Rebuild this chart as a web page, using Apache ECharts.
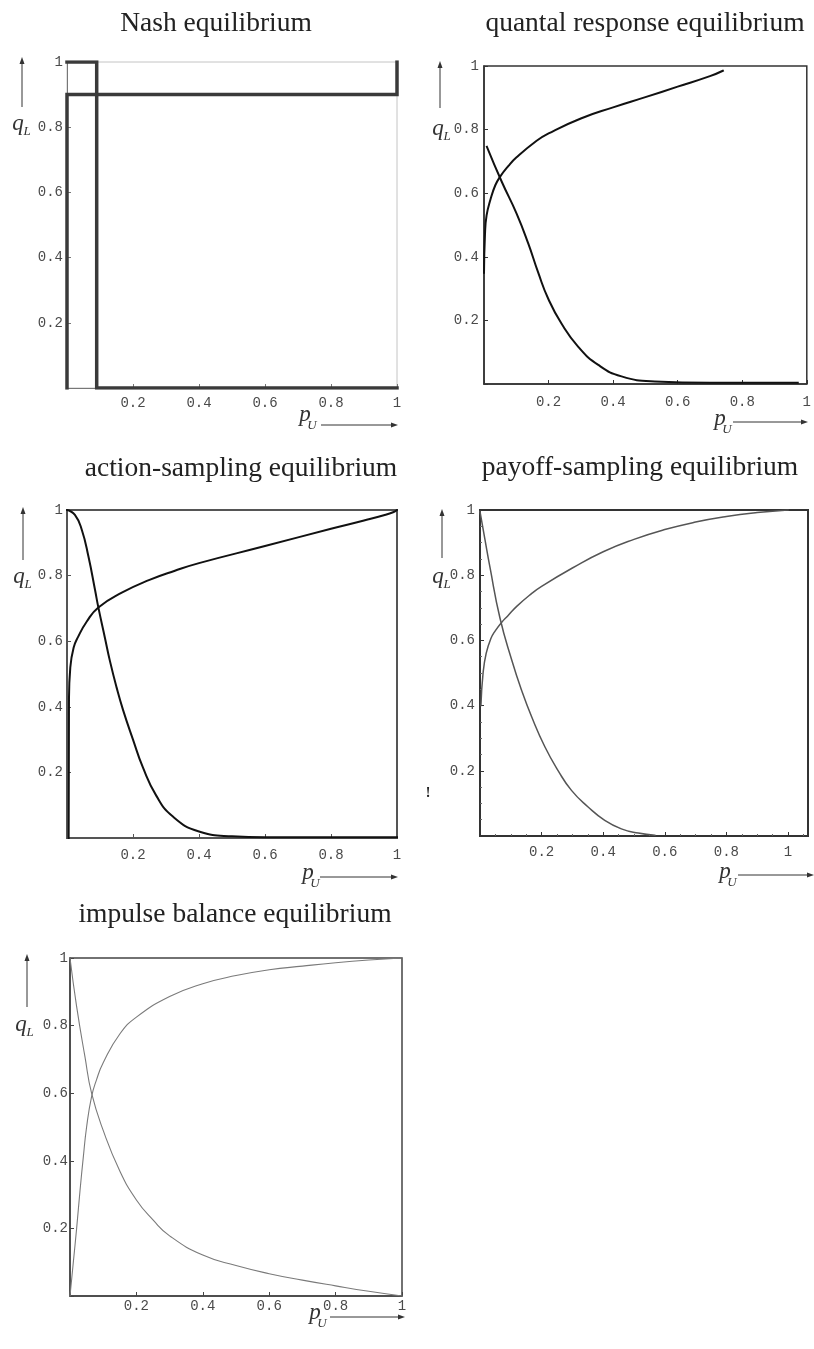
<!DOCTYPE html>
<html>
<head>
<meta charset="utf-8">
<script src="https://cdn.jsdelivr.net/npm/echarts@6/dist/echarts.min.js"></script>
<style>
  html, body { margin: 0; padding: 0; background: #fff; }
  #chart { width: 814px; height: 1349px; }
</style>
</head>
<body>
<div id="chart"></div>
<script>
// Panel titles and axis tick labels
const titles = [
  'Nash equilibrium',
  'quantal response equilibrium',
  'action-sampling equilibrium',
  'payoff-sampling equilibrium',
  'impulse balance equilibrium'
];
const tickLabels = ['0.2', '0.4', '0.6', '0.8', '1'];

// Nash equilibrium: best-response step functions, [p_U, q_L]
const nashRowResponse = [[0, 1], [0.09, 1], [0.09, 0], [1, 0]];
const nashColResponse = [[0, 0], [0, 0.9], [1, 0.9], [1, 1]];

// Quantal response equilibrium
const qreRise = [[0, 0.35], [0.003, 0.47], [0.008, 0.53], [0.02, 0.58], [0.035, 0.625], [0.05, 0.652],
  [0.075, 0.685], [0.1, 0.712], [0.163, 0.765], [0.2, 0.788], [0.3, 0.835], [0.4, 0.87],
  [0.5, 0.902], [0.6, 0.935], [0.7, 0.968], [0.74, 0.985]];
const qreFall = [[0.009, 0.746], [0.055, 0.636], [0.101, 0.536], [0.137, 0.442], [0.168, 0.35],
  [0.199, 0.268], [0.24, 0.19], [0.292, 0.117], [0.354, 0.06], [0.426, 0.024], [0.529, 0.008],
  [0.7, 0.004], [0.972, 0.004]];

// Action-sampling equilibrium
const asRise = [[0.005, 0], [0.006, 0.42], [0.01, 0.52], [0.02, 0.58], [0.034, 0.614], [0.06, 0.66],
  [0.095, 0.703], [0.166, 0.748], [0.25, 0.787], [0.327, 0.815], [0.4, 0.838], [0.6, 0.89],
  [0.8, 0.943], [0.9, 0.968], [0.96, 0.984], [0.99, 0.994], [1, 1]];
const asFall = [[0, 1], [0.024, 0.985], [0.045, 0.939], [0.065, 0.858], [0.085, 0.756], [0.095, 0.703],
  [0.115, 0.61], [0.13, 0.54], [0.15, 0.46], [0.17, 0.39], [0.2, 0.3], [0.23, 0.215], [0.27, 0.13],
  [0.32, 0.066], [0.4, 0.02], [0.5, 0.005], [0.6, 0.002], [1, 0.002]];

// Payoff-sampling equilibrium
const psRise = [[0.003, 0.4], [0.01, 0.5], [0.02, 0.56], [0.035, 0.605], [0.05, 0.63], [0.07, 0.655],
  [0.09, 0.675], [0.12, 0.705], [0.168, 0.744], [0.2, 0.766], [0.3, 0.822], [0.4, 0.872],
  [0.5, 0.91], [0.6, 0.94], [0.7, 0.963], [0.8, 0.98], [0.9, 0.992], [1, 1]];
const psFall = [[0, 0.995], [0.016, 0.91], [0.032, 0.826], [0.065, 0.668], [0.103, 0.54], [0.135, 0.447],
  [0.168, 0.365], [0.211, 0.273], [0.254, 0.2], [0.297, 0.14], [0.351, 0.089], [0.405, 0.048],
  [0.459, 0.022], [0.514, 0.009], [0.568, 0.002]];

// Impulse balance equilibrium
const ibRise = [[0, 0], [0.01, 0.1], [0.02, 0.2], [0.03, 0.31], [0.04, 0.41], [0.05, 0.5], [0.065, 0.59],
  [0.08, 0.64], [0.1, 0.69], [0.15, 0.775], [0.2, 0.825], [0.3, 0.886], [0.4, 0.924], [0.5, 0.948],
  [0.6, 0.965], [0.7, 0.976], [0.8, 0.986], [0.9, 0.994], [1, 1]];
const ibFall = [[0, 1], [0.02, 0.856], [0.045, 0.708], [0.065, 0.6], [0.1, 0.49], [0.15, 0.37], [0.2, 0.284],
  [0.25, 0.225], [0.3, 0.178], [0.4, 0.121], [0.5, 0.09], [0.6, 0.066], [0.7, 0.047], [0.8, 0.03],
  [0.9, 0.014], [1, 0]];

const panelData = [
  { curves: [nashRowResponse, nashColResponse], smooth: false },
  { curves: [qreRise, qreFall], smooth: 0.5 },
  { curves: [asRise, asFall], smooth: 0.5 },
  { curves: [psRise, psFall], smooth: 0.5 },
  { curves: [ibRise, ibFall], smooth: 0.5 }
];

// Page layout of the five panels (pixels) and their drawing styles
const layout = [
  { left: 67, top: 62, width: 330, height: 326, xMax: 1, titleX: 216, titleTop: 10,
    frame: '#c4c4c4', frameW: 1, axis: '#777', line: '#3a3a3a', lineW: 3.5,
    xGap: 8, yGap: 4, qArrow: [22, 107, 57], q: [18, 124], pArrow: [321, 398, 425], p: [305, 415] },
  { left: 484, top: 66, width: 323, height: 318, xMax: 1, titleX: 645, titleTop: 10,
    frame: '#333', frameW: 1.5, axis: '#333', line: '#111', lineW: 2,
    xGap: 11, yGap: 5, qArrow: [440, 108, 61], q: [438, 129], pArrow: [733, 808, 422], p: [720, 419] },
  { left: 67, top: 510, width: 330, height: 328, xMax: 1, titleX: 241, titleTop: 455,
    frame: '#555', frameW: 2, axis: '#555', line: '#111', lineW: 2,
    xGap: 10, yGap: 4, qArrow: [23, 560, 507], q: [19, 577], pArrow: [320, 398, 877], p: [308, 873] },
  { left: 480, top: 510, width: 328, height: 326, xMax: 1.065, titleX: 640, titleTop: 454,
    frame: '#333', frameW: 2, axis: '#333', line: '#555', lineW: 1.5,
    xGap: 9, yGap: 5, qArrow: [442, 558, 509], q: [438, 577], pArrow: [738, 814, 875], p: [725, 872] },
  { left: 70, top: 958, width: 332, height: 338, xMax: 1, titleX: 235, titleTop: 901,
    frame: '#444', frameW: 1.5, axis: '#444', line: '#7a7a7a', lineW: 1.1,
    xGap: 3, yGap: 2, qArrow: [27, 1007, 954], q: [21, 1025], pArrow: [330, 405, 1317], p: [315, 1313] }
];

const tickFont = { fontFamily: 'Liberation Mono, DejaVu Sans Mono, monospace', fontSize: 14, color: '#4a4a4a' };
const fmt = v => {
  const r = Math.round(v * 10) / 10;
  const label = r === 1 ? '1' : r.toFixed(1);
  return tickLabels.includes(label) ? label : '';
};

const grid = [], xAxis = [], yAxis = [], series = [], title = [], graphic = [];

layout.forEach((L, i) => {
  grid.push({ left: L.left, top: L.top, width: L.width, height: L.height,
    show: true, borderColor: L.frame, borderWidth: L.frameW, backgroundColor: 'transparent' });

  const common = {
    type: 'value', gridIndex: i, min: 0, interval: 0.2,
    splitLine: { show: false },
    axisLine: { show: true, onZero: false, lineStyle: { color: L.axis, width: L.frameW } },
    axisTick: { show: true, inside: true, length: 4, lineStyle: { color: L.axis, width: 1 } },
    minorTick: { show: i === 3, splitNumber: 4, length: 2, lineStyle: { color: '#666' } }
  };
  xAxis.push(Object.assign({}, common, { max: L.xMax,
    axisLabel: Object.assign({ margin: L.xGap, formatter: fmt, showMaxLabel: L.xMax === 1 }, tickFont) }));
  yAxis.push(Object.assign({}, common, { max: 1,
    axisLabel: Object.assign({ margin: L.yGap, formatter: fmt }, tickFont) }));

  panelData[i].curves.forEach(c => {
    series.push({ type: 'line', xAxisIndex: i, yAxisIndex: i, data: c,
      smooth: panelData[i].smooth,
      showSymbol: false, symbol: 'none', animation: false, silent: true,
      lineStyle: { color: L.line, width: L.lineW, cap: 'square', join: 'miter' } });
  });

  title.push({ text: titles[i], left: L.titleX, top: L.titleTop, textAlign: 'center', padding: 0,
    textStyle: { fontFamily: 'Liberation Serif, Times New Roman, serif', fontSize: 27.5, fontWeight: 'normal', color: '#222' } });

  const ink = '#333';
  // q_L axis name with upward arrow
  const [ax, ay1, ay2] = L.qArrow;
  graphic.push({ type: 'line', shape: { x1: ax, y1: ay1, x2: ax, y2: ay2 + 4 }, style: { stroke: ink, lineWidth: 1 } });
  graphic.push({ type: 'polygon', shape: { points: [[ax, ay2], [ax - 2.5, ay2 + 7], [ax + 2.5, ay2 + 7]] }, style: { fill: ink } });
  graphic.push({ type: 'text', x: L.q[0], y: L.q[1], style: { text: 'q', align: 'center', verticalAlign: 'middle',
    font: 'italic 23px "Liberation Serif", serif', fill: ink } });
  graphic.push({ type: 'text', x: L.q[0] + 9, y: L.q[1] + 8, style: { text: 'L', align: 'center', verticalAlign: 'middle',
    font: 'italic 13px "Liberation Serif", serif', fill: ink } });
  // p_U axis name with rightward arrow
  const [bx1, bx2, by] = L.pArrow;
  graphic.push({ type: 'line', shape: { x1: bx1, y1: by, x2: bx2 - 4, y2: by }, style: { stroke: ink, lineWidth: 1 } });
  graphic.push({ type: 'polygon', shape: { points: [[bx2, by], [bx2 - 7, by - 2.5], [bx2 - 7, by + 2.5]] }, style: { fill: ink } });
  graphic.push({ type: 'text', x: L.p[0], y: L.p[1], style: { text: 'p', align: 'center', verticalAlign: 'middle',
    font: 'italic 23px "Liberation Serif", serif', fill: ink } });
  graphic.push({ type: 'text', x: L.p[0] + 7, y: L.p[1] + 11, style: { text: 'U', align: 'center', verticalAlign: 'middle',
    font: 'italic 13px "Liberation Serif", serif', fill: ink } });
});

// stray mark beside the payoff-sampling panel
graphic.push({ type: 'text', x: 428, y: 793, style: { text: '!', align: 'center', verticalAlign: 'middle',
  font: 'bold 14px "Liberation Serif", serif', fill: '#222' } });

const chart = echarts.init(document.getElementById('chart'), null, { renderer: 'canvas' });
chart.setOption({ backgroundColor: '#fff', animation: false, title, grid, xAxis, yAxis, series, graphic });
</script>
</body>
</html>
